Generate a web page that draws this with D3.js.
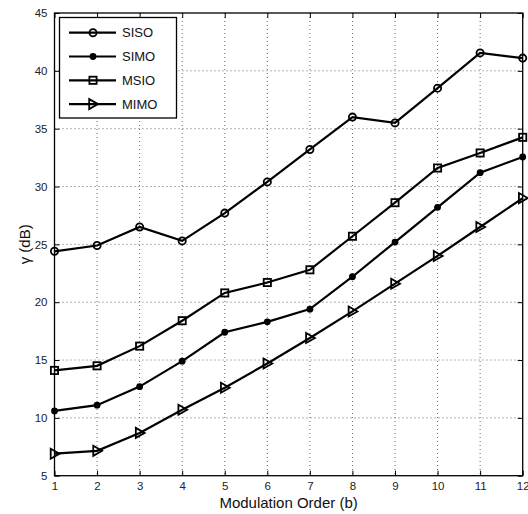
<!DOCTYPE html>
<html><head><meta charset="utf-8">
<script src="https://cdn.jsdelivr.net/npm/d3@7"></script>
<style>body{margin:0;background:#fff}svg{display:block}text{font-family:"Liberation Sans",Arial,sans-serif}</style>
</head><body><svg id="c" width="528" height="514"></svg>
<script>
const orders = [1,2,3,4,5,6,7,8,9,10,11,12];
const siso = [24.4,24.9,26.5,25.3,27.7,30.4,33.2,36.0,35.5,38.5,41.55,41.1];
const simo = [10.6,11.1,12.7,14.9,17.4,18.3,19.4,22.2,25.2,28.2,31.2,32.55];
const msio = [14.1,14.5,16.2,18.4,20.8,21.7,22.8,25.7,28.6,31.6,32.9,34.25];
const mimo = [6.9,7.15,8.7,10.7,12.6,14.7,16.9,19.2,21.6,24.0,26.5,29.0];
const seriesNames = ["SISO","SIMO","MSIO","MIMO"];
const markerTypes = ["circle","dot","square","triangle"];
const xTicks = [1,2,3,4,5,6,7,8,9,10,11,12];
const yTicks = [5,10,15,20,25,30,35,40,45];

const svg = d3.select("#c");
const L=54.5,R=522.7,T=13,B=475.7;
const x = d3.scaleLinear().domain([1,12]).range([L,R]);
const y = d3.scaleLinear().domain([5,45]).range([B,T]);

// grid
const g = svg.append("g");
g.selectAll(".gx").data(xTicks.slice(1,-1)).enter().append("line")
 .attr("x1",d=>x(d)).attr("x2",d=>x(d)).attr("y1",T).attr("y2",B)
 .attr("stroke","#444").attr("stroke-width",0.8).attr("stroke-dasharray","1,3");
g.selectAll(".gy").data(yTicks.slice(1,-1)).enter().append("line")
 .attr("y1",d=>y(d)).attr("y2",d=>y(d)).attr("x1",L).attr("x2",R)
 .attr("stroke","#444").attr("stroke-width",0.8).attr("stroke-dasharray","1,3");

// axes
const ax = svg.append("g").attr("transform",`translate(0,${B})`).call(d3.axisBottom(x).tickValues(xTicks).tickSizeInner(-5).tickSizeOuter(0).tickPadding(6));
const axT = svg.append("g").attr("transform",`translate(0,${T})`).call(d3.axisTop(x).tickValues(xTicks).tickSizeInner(-5).tickSizeOuter(0).tickFormat(""));
const ay = svg.append("g").attr("transform",`translate(${L},0)`).call(d3.axisLeft(y).tickValues(yTicks).tickSizeInner(-5).tickSizeOuter(0).tickPadding(7));
const ayR = svg.append("g").attr("transform",`translate(${R},0)`).call(d3.axisRight(y).tickValues(yTicks).tickSizeInner(-5).tickSizeOuter(0).tickFormat(""));
[ax,axT,ay,ayR].forEach(a=>{a.select(".domain").remove();a.selectAll("line").attr("stroke","#000");a.selectAll("text").attr("font-size",11.5).attr("fill","#222").attr("font-family","Liberation Sans, Arial, sans-serif");});
svg.append("rect").attr("x",L).attr("y",T).attr("width",R-L).attr("height",B-T).attr("fill","none").attr("stroke","#000").attr("stroke-width",1.3);

// labels
svg.append("text").attr("x",(L+R)/2).attr("y",507.5).attr("text-anchor","middle").attr("font-size",15).attr("fill","#111").text("Modulation Order (b)");
svg.append("text").attr("transform",`translate(30,${(T+B)/2}) rotate(-90)`).attr("text-anchor","middle").attr("font-size",15).attr("fill","#111").text("γ (dB)");

function drawMarker(sel,type){
  if(type==="circle") sel.append("circle").attr("r",3.6).attr("fill","none").attr("stroke","#000").attr("stroke-width",1.8);
  else if(type==="dot") sel.append("circle").attr("r",3.4).attr("fill","#000");
  else if(type==="square") sel.append("rect").attr("x",-3.6).attr("y",-3.6).attr("width",7.2).attr("height",7.2).attr("fill","none").attr("stroke","#000").attr("stroke-width",1.8);
  else sel.append("path").attr("d","M-3.8,-5L5,0L-3.8,5Z").attr("fill","none").attr("stroke","#000").attr("stroke-width",1.8);
}

const all=[siso,simo,msio,mimo];
const line = d3.line().x((d,i)=>x(orders[i])).y(d=>y(d));
all.forEach((s,k)=>{
  svg.append("path").datum(s).attr("d",line).attr("fill","none").attr("stroke","#000").attr("stroke-width",2.2);
  s.forEach((v,i)=>{ drawMarker(svg.append("g").attr("transform",`translate(${x(orders[i])},${y(v)})`),markerTypes[k]); });
});

// legend
const lg = svg.append("g");
lg.append("rect").attr("x",59.5).attr("y",17.5).attr("width",117).attr("height",100.5).attr("fill","#fff").attr("stroke","#000").attr("stroke-width",1.3);
seriesNames.forEach((n,k)=>{
  const yy = 32.7 + k*23.8;
  lg.append("line").attr("x1",69).attr("x2",116).attr("y1",yy).attr("y2",yy).attr("stroke","#000").attr("stroke-width",2.2);
  drawMarker(lg.append("g").attr("transform",`translate(93,${yy})`),markerTypes[k]);
  lg.append("text").attr("x",122).attr("y",yy+4.5).attr("font-size",13).attr("fill","#111").text(n);
});
</script></body></html>
